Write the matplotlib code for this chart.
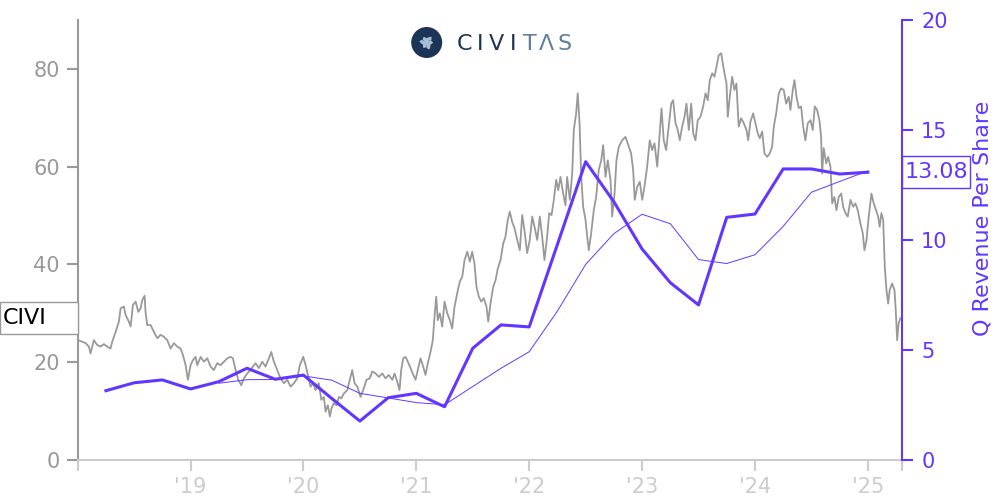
import numpy as np
import matplotlib
matplotlib.use("Agg")
import matplotlib.pyplot as plt
from matplotlib.patches import Circle, Wedge, Rectangle
from matplotlib.transforms import blended_transform_factory

# Data

price_dates = [
    2018.005, 2018.041, 2018.070, 2018.099, 2018.114, 2018.143, 2018.174, 2018.203, 2018.232, 2018.262,
    2018.291, 2018.306, 2018.336, 2018.365, 2018.380, 2018.409, 2018.424, 2018.453, 2018.469, 2018.489,
    2018.513, 2018.537, 2018.557, 2018.572, 2018.593, 2018.601, 2018.616, 2018.646, 2018.675, 2018.705,
    2018.734, 2018.764, 2018.794, 2018.823, 2018.852, 2018.882, 2018.911, 2018.932, 2018.956, 2018.976,
    2019.000, 2019.020, 2019.044, 2019.059, 2019.089, 2019.118, 2019.148, 2019.177, 2019.206, 2019.236,
    2019.266, 2019.295, 2019.325, 2019.354, 2019.375, 2019.399, 2019.422, 2019.449, 2019.472, 2019.502,
    2019.531, 2019.561, 2019.576, 2019.605, 2019.635, 2019.664, 2019.694, 2019.715, 2019.738, 2019.768,
    2019.797, 2019.826, 2019.857, 2019.886, 2019.915, 2019.945, 2019.968, 2019.998, 2020.019, 2020.039,
    2020.063, 2020.087, 2020.107, 2020.136, 2020.158, 2020.181, 2020.196, 2020.216, 2020.234, 2020.249,
    2020.269, 2020.293, 2020.314, 2020.335, 2020.358, 2020.388, 2020.411, 2020.432, 2020.453, 2020.477,
    2020.506, 2020.535, 2020.559, 2020.588, 2020.609, 2020.639, 2020.668, 2020.698, 2020.727, 2020.756,
    2020.787, 2020.807, 2020.831, 2020.851, 2020.866, 2020.884, 2020.904, 2020.925, 2020.949, 2020.973,
    2020.993, 2021.017, 2021.037, 2021.061, 2021.081, 2021.102, 2021.126, 2021.146, 2021.161, 2021.176,
    2021.190, 2021.208, 2021.229, 2021.250, 2021.274, 2021.297, 2021.318, 2021.338, 2021.362, 2021.385,
    2021.407, 2021.427, 2021.451, 2021.474, 2021.495, 2021.515, 2021.533, 2021.554, 2021.575, 2021.598,
    2021.622, 2021.637, 2021.657, 2021.681, 2021.702, 2021.722, 2021.746, 2021.770, 2021.790, 2021.810,
    2021.828, 2021.849, 2021.870, 2021.894, 2021.917, 2021.938, 2021.958, 2021.982, 2022.005, 2022.027,
    2022.047, 2022.071, 2022.094, 2022.115, 2022.135, 2022.159, 2022.177, 2022.198, 2022.218, 2022.239,
    2022.257, 2022.277, 2022.301, 2022.321, 2022.336, 2022.360, 2022.381, 2022.395, 2022.416, 2022.430,
    2022.446, 2022.461, 2022.478, 2022.499, 2022.514, 2022.528, 2022.549, 2022.572, 2022.593, 2022.616,
    2022.638, 2022.655, 2022.676, 2022.696, 2022.720, 2022.735, 2022.756, 2022.773, 2022.794, 2022.824,
    2022.853, 2022.882, 2022.903, 2022.921, 2022.935, 2022.957, 2022.980, 2023.001, 2023.021, 2023.045,
    2023.068, 2023.089, 2023.110, 2023.134, 2023.154, 2023.172, 2023.192, 2023.213, 2023.236, 2023.258,
    2023.275, 2023.296, 2023.316, 2023.334, 2023.355, 2023.376, 2023.393, 2023.414, 2023.435, 2023.453,
    2023.473, 2023.493, 2023.517, 2023.541, 2023.562, 2023.582, 2023.600, 2023.621, 2023.641, 2023.659,
    2023.679, 2023.701, 2023.715, 2023.730, 2023.748, 2023.759, 2023.777, 2023.798, 2023.818, 2023.836,
    2023.856, 2023.878, 2023.901, 2023.925, 2023.940, 2023.960, 2023.984, 2024.004, 2024.025, 2024.043,
    2024.064, 2024.084, 2024.108, 2024.131, 2024.152, 2024.167, 2024.188, 2024.211, 2024.232, 2024.255,
    2024.276, 2024.299, 2024.314, 2024.335, 2024.350, 2024.368, 2024.388, 2024.409, 2024.427, 2024.447,
    2024.468, 2024.492, 2024.512, 2024.530, 2024.551, 2024.571, 2024.586, 2024.595, 2024.609, 2024.631,
    2024.648, 2024.669, 2024.684, 2024.704, 2024.722, 2024.742, 2024.764, 2024.781, 2024.802, 2024.822,
    2024.846, 2024.870, 2024.890, 2024.911, 2024.934, 2024.955, 2024.970, 2024.988, 2025.008, 2025.032,
    2025.052, 2025.073, 2025.091, 2025.105, 2025.120, 2025.136, 2025.150, 2025.165, 2025.180, 2025.194,
    2025.215, 2025.236, 2025.247, 2025.260, 2025.273, 2025.289,
]
price_values = [
    24.5, 24.2, 23.9, 23.2, 21.8, 24.5, 23.5, 23.2, 23.7, 23.2,
    22.8, 24.2, 26.2, 28.3, 31.0, 31.4, 29.7, 28.3, 27.3, 31.7,
    32.4, 30.3, 31.0, 32.7, 33.6, 30.3, 27.6, 27.6, 26.2, 24.9,
    25.6, 25.2, 24.5, 22.8, 23.9, 23.2, 22.8, 21.5, 19.4, 16.4,
    19.4, 20.4, 21.1, 19.4, 21.1, 20.1, 20.8, 19.1, 18.4, 19.8,
    19.4, 20.1, 20.8, 21.1, 20.8, 18.4, 16.4, 15.3, 16.7, 17.7,
    18.4, 19.4, 19.8, 18.8, 20.1, 19.1, 20.8, 22.1, 20.1, 18.4,
    16.7, 15.7, 16.4, 15.0, 15.7, 16.7, 19.4, 21.1, 19.4, 17.4,
    15.0, 15.7, 14.3, 15.7, 12.3, 12.9, 9.9, 11.2, 8.9, 10.6,
    11.6, 11.2, 12.9, 12.6, 13.6, 14.3, 16.4, 18.4, 15.7, 15.0,
    12.9, 14.7, 16.4, 16.7, 18.1, 17.7, 17.0, 17.7, 16.7, 17.4,
    16.4, 17.7, 16.0, 14.3, 18.4, 20.8, 21.1, 20.1, 18.8, 17.4,
    16.4, 18.8, 20.8, 19.1, 17.4, 19.8, 22.1, 24.5, 29.3, 33.4,
    28.6, 30.0, 27.3, 32.4, 30.0, 28.6, 26.9, 31.3, 34.1, 36.5,
    37.5, 40.9, 42.6, 40.6, 42.6, 40.2, 35.4, 33.4, 32.4, 33.1,
    31.3, 28.3, 32.0, 35.4, 36.8, 39.2, 40.9, 44.3, 45.7, 49.1,
    50.8, 48.7, 47.4, 45.0, 42.9, 50.1, 47.0, 42.3, 45.0, 49.8,
    47.7, 45.0, 49.8, 45.7, 40.9, 45.7, 50.5, 50.1, 53.2, 57.3,
    55.2, 57.9, 54.5, 52.1, 57.9, 53.2, 58.6, 67.5, 70.9, 75.0,
    68.9, 57.9, 51.8, 49.1, 45.7, 42.9, 46.4, 51.1, 53.8, 59.3,
    61.3, 64.4, 57.9, 61.3, 57.3, 49.8, 54.5, 61.3, 64.1, 65.4,
    66.1, 64.1, 62.7, 59.3, 53.2, 55.9, 56.9, 53.2, 55.9, 60.0,
    65.4, 63.4, 64.8, 60.0, 66.1, 71.9, 65.4, 63.4, 68.2, 72.9,
    73.6, 68.9, 67.5, 65.4, 68.2, 70.2, 72.9, 67.5, 72.9, 66.8,
    65.4, 69.5, 70.2, 72.3, 75.0, 73.6, 77.7, 79.1, 78.4, 80.4,
    82.8, 83.2, 81.1, 79.1, 77.0, 70.2, 74.3, 78.4, 75.7, 77.0,
    68.2, 69.9, 68.9, 67.5, 65.4, 69.2, 70.9, 68.9, 66.8, 65.8,
    67.2, 62.7, 62.0, 62.7, 64.1, 68.2, 70.9, 75.0, 76.0, 75.7,
    72.9, 74.3, 71.6, 75.7, 77.7, 74.3, 72.0, 72.3, 68.2, 65.4,
    68.9, 69.5, 67.5, 72.3, 71.6, 69.5, 66.1, 58.6, 63.8, 60.7,
    62.0, 60.0, 52.5, 53.8, 51.1, 53.8, 54.5, 51.8, 50.5, 49.8,
    53.2, 51.8, 52.5, 51.1, 48.4, 46.4, 42.9, 45.0, 49.8, 54.5,
    52.5, 51.1, 49.8, 47.7, 50.5, 49.1, 39.5, 34.8, 32.0, 34.8,
    36.1, 34.8, 30.7, 24.5, 28.0, 29.0,
]

quarter_dates = [2018.25, 2018.5, 2018.75, 2019.0, 2019.25, 2019.5, 2019.75,
                 2020.0, 2020.25, 2020.5, 2020.75, 2021.0, 2021.25, 2021.5, 2021.75,
                 2022.0, 2022.25, 2022.5, 2022.75, 2023.0, 2023.25, 2023.5, 2023.75,
                 2024.0, 2024.25, 2024.5, 2024.75, 2025.0]
rev_per_share = [3.15, 3.51, 3.64, 3.23, 3.56, 4.17, 3.67,
                 3.86, 2.80, 1.77, 2.83, 3.03, 2.42, 5.08, 6.14,
                 6.05, 9.80, 13.56, 11.74, 9.59, 8.06, 7.05, 11.03,
                 11.18, 13.23, 13.23, 13.00, 13.08]

avg_dates = quarter_dates[4:]
rev_avg = [3.49, 3.65, 3.66, 3.82, 3.63, 3.03, 2.82, 2.61, 2.51, 3.34, 4.17,
           4.92, 6.77, 8.89, 10.29, 11.17, 10.74, 9.11, 8.93, 9.33, 10.62,
           12.17, 12.66, 13.14]

year_ticks = [2018, 2019, 2020, 2021, 2022, 2023, 2024, 2025, 2025.30]
year_labels = ["", "'19", "'20", "'21", "'22", "'23", "'24", "'25", ""]

purple = "#6236ff"
gray = "#999999"
light = "#cccccc"

# Plot

fig = plt.figure(figsize=(10, 5), dpi=100)
ax = fig.add_axes([0.0777, 0.08, 0.824, 0.88])
ax2 = ax.twinx()

ax.plot(price_dates, price_values, color=gray, lw=1.3)
ax2.plot(avg_dates, rev_avg, color=purple, lw=0.7)
ax2.plot(quarter_dates, rev_per_share, color=purple, lw=2.2)

ax.set_xlim(2018.0, 2025.30)
ax.set_ylim(0, 90)
ax2.set_ylim(0, 20)

ax.set_yticks([0, 20, 40, 60, 80])
ax2.set_yticks([0, 5, 10, 15, 20])
ax.set_xticks(year_ticks)
ax.set_xticklabels(year_labels)

for a in (ax, ax2):
    a.spines["top"].set_visible(False)
ax.spines["right"].set_visible(False)
ax2.spines["left"].set_visible(False)
ax2.spines["bottom"].set_visible(False)
ax.spines["left"].set_color(gray)
ax.spines["left"].set_linewidth(1.5)
ax.spines["bottom"].set_color(light)
ax.spines["bottom"].set_linewidth(1.5)
ax2.spines["right"].set_color(purple)
ax2.spines["right"].set_linewidth(1.5)

ax.tick_params(axis="y", colors=gray, labelsize=15, length=8, width=1.5, pad=5)
ax.tick_params(axis="x", colors=light, labelsize=15, length=8, width=1.5, pad=4)
ax2.tick_params(axis="y", colors=purple, labelsize=15, length=8, width=1.5, pad=6)

ax2.set_ylabel("Q Revenue Per Share", color=purple, fontsize=16)
ax2.yaxis.set_label_coords(1.0855, 0.55)

# value tags (boxes sized to the margins)
tr2 = blended_transform_factory(ax2.transAxes, ax2.transData)
last_rev = rev_per_share[-1]
ax2.add_patch(Rectangle((1.0, last_rev - 0.73), 0.0825, 1.46, transform=tr2,
                        fc="white", ec=purple, lw=1, clip_on=False, zorder=5))
ax2.text(1.003, last_rev, "13.08", transform=tr2, color=purple, fontsize=16,
         ha="left", va="center", zorder=6, clip_on=False)

tr1 = blended_transform_factory(ax.transAxes, ax.transData)
last_price = price_values[-1]
ax.add_patch(Rectangle((-0.0943, last_price - 3.27), 0.0943, 6.54, transform=tr1,
                       fc="white", ec=gray, lw=1, clip_on=False, zorder=5))
ax.text(-0.0905, last_price, "CIVI", transform=tr1, color="black", fontsize=16,
        ha="left", va="center", zorder=6, clip_on=False)

# logo
navy = "#1c3557"
slate = "#5f7d9c"
letters = ["C", "I", "V", "I", "T", "\u039b", "S"]
letter_x = [464, 480, 496.5, 513, 530, 546.5, 565]
for i, ch in enumerate(letters):
    fig.text(letter_x[i] / 1000, 0.912, ch, color=navy if i < 4 else slate,
             fontsize=16, ha="center", va="center")

cx, cy, r = 4.267, 4.575, 0.155
tr = fig.dpi_scale_trans
fig.patches.append(Circle((cx, cy), r, transform=tr, fc=navy, ec="none"))
for k in range(3):
    ang = 90 + 120 * k
    ox = cx + 0.055 * np.cos(np.radians(ang))
    oy = cy + 0.055 * np.sin(np.radians(ang))
    fig.patches.append(Wedge((ox, oy), 0.085, ang + 120, ang + 230, width=0.035,
                             transform=tr, fc="#a9bdd6", ec="none"))

plt.savefig("out.png", dpi=100)
